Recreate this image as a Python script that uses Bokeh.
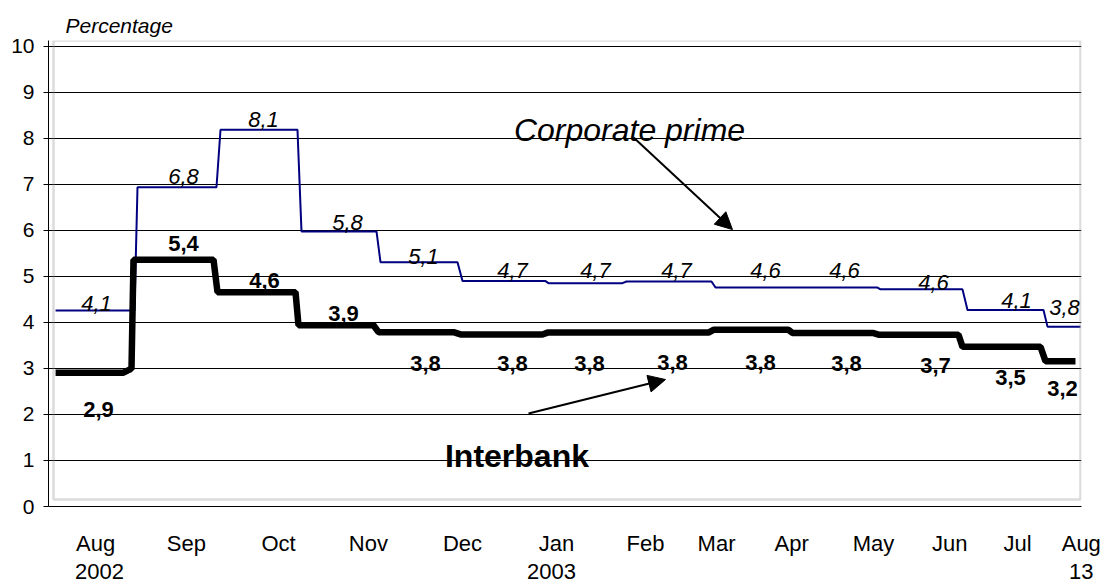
from bokeh.plotting import figure
from bokeh.models import (Range1d, FixedTicker, Label, Arrow, LinearAxis,
                          NormalHead, BoxAnnotation)
from bokeh.core.properties import value
from bokeh.embed import file_html
from bokeh.resources import INLINE

FONT = "Liberation Sans"

# ---- data (x in days from 1 Aug 2002) ----
corp_start = [0.0, 30.12, 60.64, 90.41, 119.46, 149.61, 181.22, 209.9, 242.62, 303.28, 335.27, 364.68]
corp_end   = [29.02, 59.16, 88.94, 117.99, 147.77, 180.12, 208.43, 241.15, 302.18, 333.43, 363.21, 376.81]
corp_value = [4.26, 6.94, 8.19, 5.98, 5.31, 4.90, 4.855, 4.89, 4.76, 4.72, 4.27, 3.91]

ib_start = [0.0, 27.55, 28.65, 59.53, 89.31, 118.72, 148.87, 180.86, 241.89, 270.93, 302.55, 333.43, 363.94]
ib_end   = [24.97, 27.91, 58.06, 88.21, 116.89, 146.3, 179.02, 240.05, 269.46, 300.71, 331.96, 362.11, 374.97]
ib_value = [2.91, 2.985, 5.365, 4.66, 3.94, 3.79, 3.74, 3.78, 3.84, 3.77, 3.735, 3.47, 3.16]

corp_labels = ["4,1", "6,8", "8,1", "5,8", "5,1", "4,7", "4,7", "4,7", "4,6", "4,6", "4,6", "4,1", "3,8"]
ib_labels = ["2,9", "5,4", "4,6", "3,9", "3,8", "3,8", "3,8", "3,8", "3,8", "3,8", "3,7", "3,5", "3,2"]

month_ticks = [14.7, 48.1, 82.0, 115.0, 149.6, 184.2, 216.9, 243.0, 270.6, 300.7, 328.7, 353.7, 377.1]
month_names = ["Aug", "Sep", "Oct", "Nov", "Dec", "Jan", "Feb", "Mar", "Apr", "May", "Jun", "Jul", "Aug"]
year_ticks = [16.15, 182.3, 377.1]
year_names = ["2002", "2003", "13"]
y_ticks = [0, 1, 2, 3, 4, 5, 6, 7, 8, 9, 10]

# ---- label positions ----
corp_lab_x = [15.05, 47.03, 76.44, 107.33, 135.27, 167.99, 198.5, 228.28, 261.0, 290.05, 322.77, 353.28, 370.93]
corp_lab_y = [4.41, 7.17, 8.41, 6.17, 5.43, 5.13, 5.13, 5.13, 5.13, 5.13, 4.87, 4.48, 4.33]
ib_lab_x = [15.78, 47.03, 76.81, 105.86, 136.0, 167.99, 196.3, 226.81, 259.16, 290.78, 323.5, 351.08, 370.19]
ib_lab_y = [2.11, 5.72, 4.91, 4.20, 3.11, 3.11, 3.11, 3.13, 3.13, 3.11, 3.07, 2.80, 2.57]


def step_xy(starts, ends, vals):
    xs, ys = [], []
    for s, e, v in zip(starts, ends, vals):
        xs += [s, e]
        ys += [v, v]
    return xs, ys


p = figure(width=1108, height=585, output_backend="svg", toolbar_location=None,
           x_range=Range1d(-2.6, 377.18), y_range=Range1d(0, 10.13),
           min_border_left=48, min_border_right=27, min_border_top=40, min_border_bottom=79,
           title="Percentage")
p.outline_line_color = None
p.background_fill_color = "white"
p.border_fill_color = "white"

p.title.text_font = FONT
p.title.text_font_size = "21px"
p.title.text_font_style = "italic"
p.title.text_color = "black"
p.title.align = "left"
p.title.offset = 17
p.title.standoff = 8

# axes
p.yaxis.ticker = FixedTicker(ticks=y_ticks)
p.yaxis.major_label_text_font = FONT
p.yaxis.major_label_text_font_size = "21px"
p.yaxis.major_label_text_color = "black"
p.yaxis.major_tick_out = 5
p.yaxis.major_tick_in = 0
p.yaxis.minor_tick_line_color = None
p.yaxis.major_label_standoff = 9
p.yaxis.axis_line_color = "black"
p.yaxis.major_tick_line_color = "black"

p.xaxis.ticker = FixedTicker(ticks=month_ticks)
p.xaxis.major_label_overrides = {t: n for t, n in zip(month_ticks, month_names)}
p.xaxis.major_label_text_font = FONT
p.xaxis.major_label_text_font_size = "22px"
p.xaxis.major_label_text_color = "black"
p.xaxis.major_tick_out = 0
p.xaxis.major_tick_in = 0
p.xaxis.minor_tick_line_color = None
p.xaxis.major_label_standoff = 24
p.xaxis.axis_line_color = "black"

year_axis = LinearAxis(ticker=FixedTicker(ticks=year_ticks),
                       major_label_overrides={t: n for t, n in zip(year_ticks, year_names)},
                       major_label_text_font=FONT, major_label_text_font_size="22px",
                       major_label_text_color="black", major_tick_out=0, major_tick_in=0,
                       minor_tick_line_color=None, major_tick_line_color=None,
                       axis_line_color=None, major_label_standoff=5)
p.add_layout(year_axis, "below")

p.xgrid.grid_line_color = None
p.ygrid.ticker = FixedTicker(ticks=y_ticks)
p.ygrid.grid_line_color = "black"
p.ygrid.grid_line_width = 1

# gray plot-area border (Excel style)
p.add_layout(BoxAnnotation(left=-0.76, right=376.8, bottom=0.152, top=10.13,
                           fill_alpha=0, line_color="#8c8c8c", line_width=2.5))

# series
cx, cy = step_xy(corp_start, corp_end, corp_value)
ix, iy = step_xy(ib_start, ib_end, ib_value)
p.line(cx, cy, line_color="#000080", line_width=2)
p.line(ix, iy, line_color="black", line_width=6.5)

# value labels
p.text(x=corp_lab_x, y=corp_lab_y, text=corp_labels, text_font=value(FONT),
       text_font_size="22px", text_font_style="italic", text_color="black",
       text_align="center", text_baseline="alphabetic")
p.text(x=ib_lab_x, y=ib_lab_y, text=ib_labels, text_font=value(FONT),
       text_font_size="22px", text_font_style="bold", text_color="black",
       text_align="center", text_baseline="alphabetic")

# series names and arrows
p.add_layout(Label(x=211.0, y=8.19, text="Corporate prime", text_font=FONT,
                   text_font_size="32px", text_font_style="italic", text_color="black",
                   text_align="center", text_baseline="alphabetic"))
p.add_layout(Label(x=169.64, y=1.087, text="Interbank", text_font=FONT,
                   text_font_size="32px", text_font_style="bold", text_color="black",
                   text_align="center", text_baseline="alphabetic"))
p.add_layout(Arrow(end=NormalHead(size=17, fill_color="black", line_color="black"),
                   x_start=212.5, y_start=8.02, x_end=248.87, y_end=6.02,
                   line_color="black", line_width=2))
p.add_layout(Arrow(end=NormalHead(size=17, fill_color="black", line_color="black"),
                   x_start=173.87, y_start=2.02, x_end=224.24, y_end=2.76,
                   line_color="black", line_width=2))

open("out.html", "w").write(file_html(p, INLINE))
